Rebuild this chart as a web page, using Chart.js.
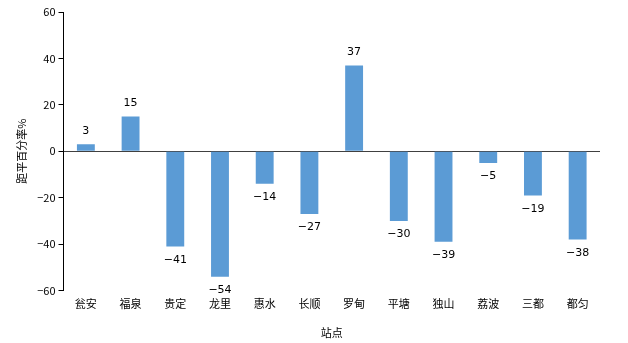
<!DOCTYPE html>
<html>
<head>
<meta charset="utf-8">
<script src="https://cdn.jsdelivr.net/npm/chart.js@4/dist/chart.umd.min.js"></script>
<style>
    html, body { margin: 0; padding: 0; background: #fff; }
    #wrap { width: 628px; height: 343px; }
</style>
</head>
<body>
<div id="wrap"><canvas id="chart"></canvas></div>
<script>
const stations = ['瓮安', '福泉', '贵定', '龙里', '惠水', '长顺', '罗甸', '平塘', '独山', '荔波', '三都', '都匀'];
const anomaly = [3, 15, -41, -54, -14, -27, 37, -30, -39, -5, -19, -38];
const yTicks = [-60, -40, -20, 0, 20, 40, 60];

Chart.defaults.font.family = '"Noto Sans CJK SC", "DejaVu Sans", sans-serif';
Chart.defaults.font.size = 11;
Chart.defaults.color = '#000';

// value labels above / below each bar
const barLabels = {
    id: 'barLabels',
    afterDatasetsDraw(chart) {
        const ctx = chart.ctx;
        const meta = chart.getDatasetMeta(0);
        ctx.save();
        ctx.font = '11px "DejaVu Sans", sans-serif';
        ctx.fillStyle = '#000';
        ctx.textAlign = 'center';
        meta.data.forEach((bar, i) => {
            const v = anomaly[i];
            if (v >= 0) {
                ctx.textBaseline = 'bottom';
                ctx.fillText(String(v), bar.x, bar.y - 8);
            } else {
                ctx.textBaseline = 'top';
                ctx.fillText(String(v).replace('-', '\u2212'), bar.x, bar.y + 8);
            }
        });
        ctx.restore();
    }
};

new Chart(document.getElementById('chart'), {
    type: 'bar',
    data: {
        labels: stations,
        datasets: [{
            data: anomaly,
            backgroundColor: '#5B9BD5',
            categoryPercentage: 1,
            barPercentage: 0.4
        }]
    },
    options: {
        responsive: true,
        maintainAspectRatio: false,
        animation: false,
        layout: { padding: { top: 12, right: 28, left: 15, bottom: 4 } },
        plugins: {
            legend: { display: false },
            tooltip: { enabled: false }
        },
        scales: {
            x: {
                grid: { display: false, drawTicks: false },
                border: { display: false },
                ticks: { padding: 7, color: '#000' },
                title: { display: true, text: '站点', padding: { top: 8, bottom: 0 } }
            },
            y: {
                min: -60,
                max: 60,
                afterBuildTicks(scale) {
                    scale.ticks = yTicks.map(v => ({ value: v }));
                },
                ticks: {
                    padding: 3,
                    color: '#000',
                    callback: v => String(v).replace('-', '\u2212')
                },
                grid: {
                    color: c => (c.tick && c.tick.value === 0) ? '#404040' : 'rgba(0,0,0,0)',
                    tickColor: '#000',
                    tickLength: 5,
                    lineWidth: 1
                },
                border: { display: true, color: '#000', width: 1 },
                title: { display: true, text: '距平百分率%', padding: { top: 0, bottom: 6 } }
            }
        }
    },
    plugins: [barLabels]
});
</script>
</body>
</html>
